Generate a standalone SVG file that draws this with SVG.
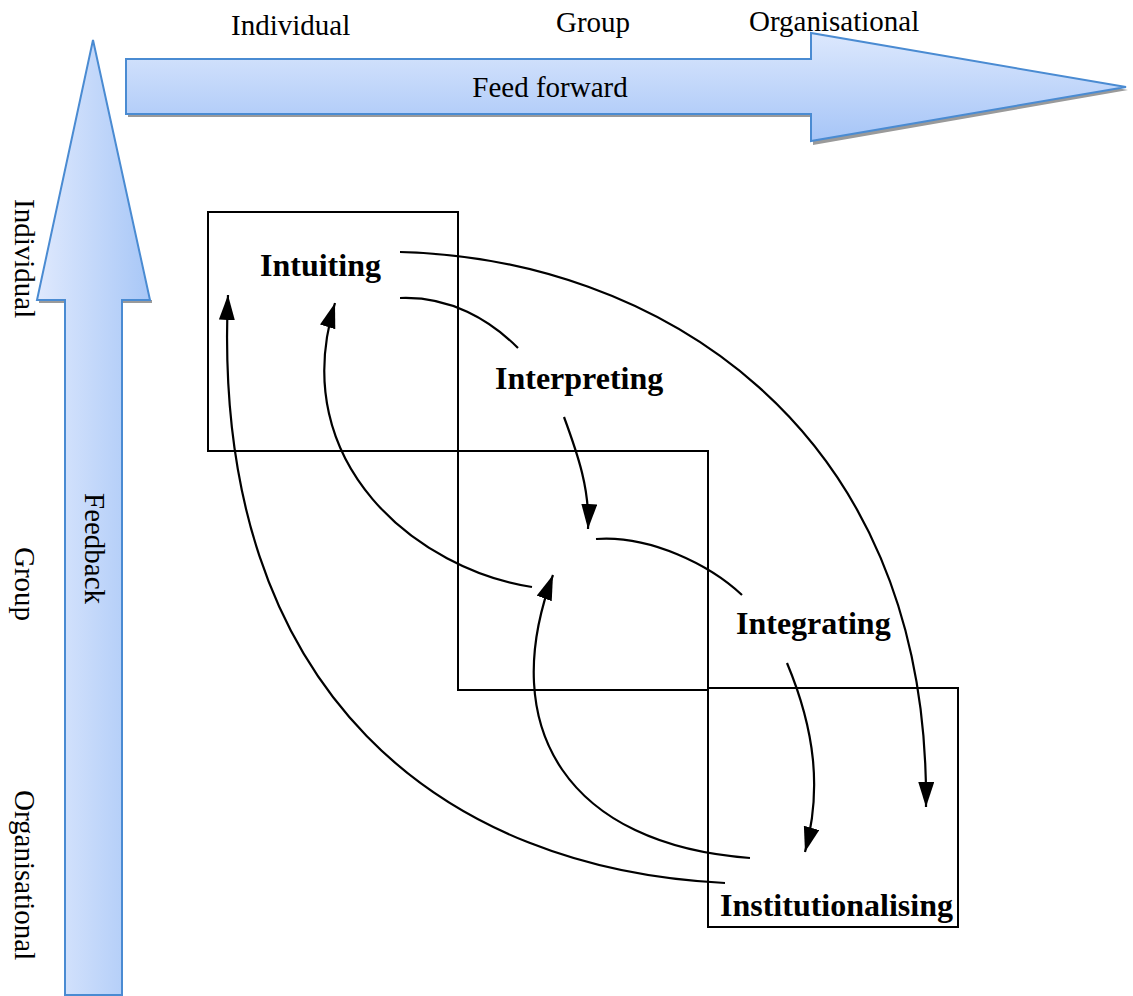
<svg xmlns="http://www.w3.org/2000/svg" width="1133" height="996" viewBox="0 0 1133 996">
  <defs>
    <linearGradient id="gradDown" x1="0" y1="0" x2="0" y2="1">
      <stop offset="0" stop-color="#dce8fd"/>
      <stop offset="1" stop-color="#a6c5f7"/>
    </linearGradient>
    <linearGradient id="gradRight" x1="0" y1="0" x2="1" y2="0">
      <stop offset="0" stop-color="#dfe9fd"/>
      <stop offset="1" stop-color="#a8c7f7"/>
    </linearGradient>
    <marker id="head" markerUnits="userSpaceOnUse" markerWidth="28" markerHeight="18" refX="25" refY="8" orient="auto">
      <path d="M0,0 L25,8 L0,16 Z" fill="#000"/>
    </marker>
  </defs>
  <style>
    .lbl { font-family: "Liberation Serif", "Times New Roman", serif; font-size: 29px; fill: #000; }
    .stage { font-family: "Liberation Serif", "Times New Roman", serif; font-size: 32px; font-weight: bold; fill: #000; }
    .box { fill: none; stroke: #000; stroke-width: 2; }
    .link { fill: none; stroke: #000; stroke-width: 2.2; }
    .big { stroke: #4a8bd2; stroke-width: 2; }
    .shadow { fill: #9a9a9a; }
  </style>

  <!-- Feed forward arrow -->
  <g id="feed-forward">
    <path class="shadow" d="M128,62 L813,62 L813,36 L1128,90 L813,145 L813,117 L128,117 Z"/>
    <path class="big" fill="url(#gradDown)" d="M126,59 L811,59 L811,33 L1126,87 L811,141 L811,114 L126,114 Z"/>
    <text class="lbl" x="550" y="97" text-anchor="middle">Feed forward</text>
  </g>

  <!-- Feedback arrow -->
  <g id="feedback">
    <path class="shadow" d="M39,303 L152,303 L152,300 L39,300 Z"/>
    <path class="big" fill="url(#gradRight)" d="M65,995 L65,300 L37,300 L93,40 L150,300 L122,300 L122,995 Z"/>
    <text class="lbl" transform="translate(85,493) rotate(90)">Feedback</text>
  </g>

  <!-- Level labels -->
  <g id="top-labels">
    <text class="lbl" x="231" y="35">Individual</text>
    <text class="lbl" x="556" y="32">Group</text>
    <text class="lbl" x="749" y="31">Organisational</text>
  </g>
  <g id="side-labels">
    <text class="lbl" transform="translate(15,199) rotate(90)">Individual</text>
    <text class="lbl" transform="translate(15,547) rotate(90)">Group</text>
    <text class="lbl" transform="translate(15,790) rotate(90)">Organisational</text>
  </g>

  <!-- Level boxes -->
  <g id="levels">
    <rect class="box" x="208" y="212" width="250" height="239"/>
    <rect class="box" x="458" y="451" width="250" height="239"/>
    <rect class="box" x="708" y="688" width="250" height="239"/>
  </g>

  <!-- Stages -->
  <g id="intuiting"><text class="stage" x="260" y="276">Intuiting</text></g>
  <g id="interpreting"><text class="stage" x="495" y="389">Interpreting</text></g>
  <g id="integrating"><text class="stage" x="736" y="634">Integrating</text></g>
  <g id="institutionalising"><text class="stage" x="720" y="916">Institutionalising</text></g>

  <!-- Connectors -->
  <g id="connectors">
    <path class="link" marker-end="url(#head)" d="M400,252 C650,258 930,420 926,807"/>
    <path class="link" d="M400,298 C450,296 490,320 518,348"/>
    <path class="link" marker-end="url(#head)" d="M564,417 C578,455 590,490 588,529"/>
    <path class="link" d="M596,539 C650,535 710,565 742,595"/>
    <path class="link" marker-end="url(#head)" d="M787,663 C815,730 822,790 805,852"/>
    <path class="link" marker-end="url(#head)" d="M750,858 C570,845 495,730 553,575"/>
    <path class="link" marker-end="url(#head)" d="M532,587 C420,570 285,465 335,303"/>
    <path class="link" marker-end="url(#head)" d="M725,883 C450,870 210,700 228,295"/>
  </g>
</svg>
